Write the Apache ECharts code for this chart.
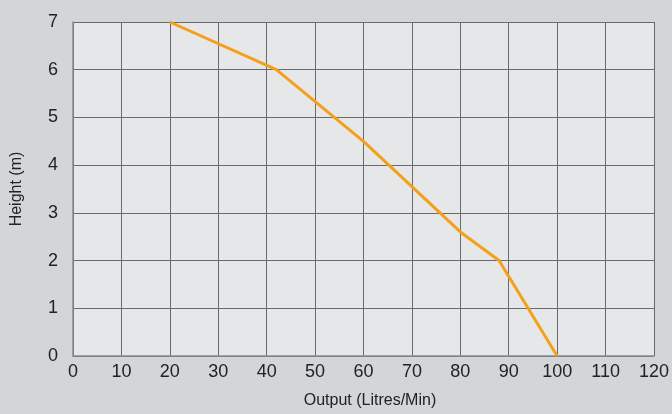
<!DOCTYPE html>
<html>
<head>
<meta charset="utf-8">
<script src="https://cdn.jsdelivr.net/npm/echarts@6/dist/echarts.min.js"></script>
<style>
html,body{margin:0;padding:0;background:#d4d5d7;}
#c{width:672px;height:414px;}
</style>
</head>
<body>
<div id="c"></div>
<script>
const outputLpm = [20, 42, 60, 80, 88, 100];
const heightM = [7, 6, 4.5, 2.6, 2, 0];
const xName = 'Output (Litres/Min)';
const yName = 'Height (m)';

const chart = echarts.init(document.getElementById('c'));
const font = 'Liberation Sans, Arial, Helvetica, sans-serif';
chart.setOption({
  backgroundColor: '#d4d5d7',
  animation: false,
  grid: {left: 73, right: 18, top: 22, bottom: 57, show: true, backgroundColor: '#e6e7e9', borderWidth: 0},
  xAxis: {
    type: 'value', min: 0, max: 120, interval: 10,
    name: xName, nameLocation: 'middle', nameGap: 37,
    nameTextStyle: {color: '#222', fontSize: 16, fontFamily: font, padding: [0, 0, 0, 13]},
    axisLine: {show: true, lineStyle: {color: '#8a8a8a', width: 1.5}},
    axisTick: {show: false},
    axisLabel: {color: '#222', fontSize: 18, fontFamily: font, margin: 7},
    splitLine: {show: true, lineStyle: {color: '#6a6a6a', width: 1}}
  },
  yAxis: {
    type: 'value', min: 0, max: 7, interval: 1,
    name: yName, nameLocation: 'middle', nameGap: 48,
    nameTextStyle: {color: '#222', fontSize: 16, fontFamily: font},
    axisLine: {show: true, lineStyle: {color: '#8a8a8a', width: 1.5}},
    axisTick: {show: false},
    axisLabel: {color: '#222', fontSize: 18, fontFamily: font, margin: 15},
    splitLine: {show: true, lineStyle: {color: '#6a6a6a', width: 1}}
  },
  series: [{
    type: 'line',
    data: outputLpm.map((x, i) => [x, heightM[i]]),
    showSymbol: false,
    lineStyle: {color: '#f5a01a', width: 3},
    clip: false
  }]
});
</script>
</body>
</html>
